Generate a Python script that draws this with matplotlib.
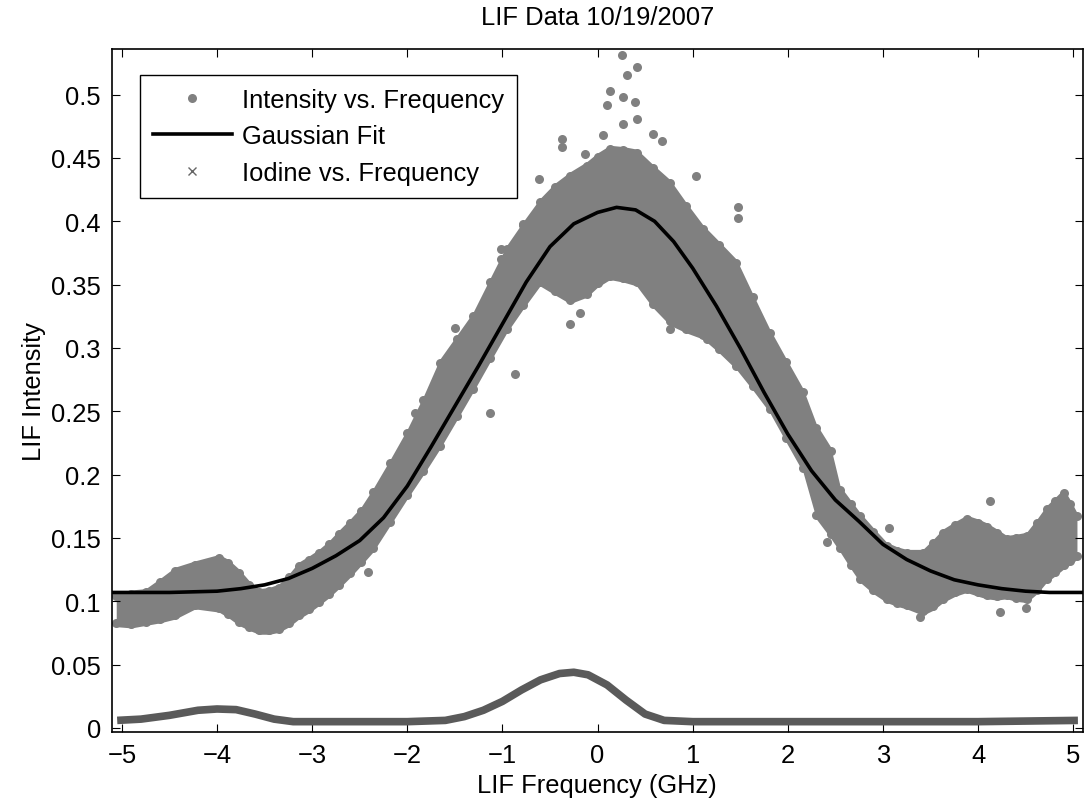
import numpy as np
import matplotlib.pyplot as plt
from matplotlib.lines import Line2D

plt.rcParams['font.family'] = ['Liberation Sans', 'DejaVu Sans']
plt.rcParams['font.size'] = 18.4

# data
# ---

# envelope of the intensity scatter (frequency in GHz, lower / upper edge)
band_x = [-5.06, -4.90, -4.75, -4.60, -4.44, -4.23, -3.98, -3.88, -3.77, -3.66,
          -3.56, -3.45, -3.35, -3.24, -3.14, -3.03, -2.93, -2.82, -2.72, -2.60,
          -2.49, -2.36, -2.18, -2.0, -1.83, -1.66, -1.48, -1.31, -1.13, -0.955,
          -0.78, -0.605, -0.45, -0.29, -0.115, 0.0, 0.13, 0.27, 0.41, 0.58,
          0.76, 0.93, 1.11, 1.28, 1.46, 1.63, 1.81, 1.98, 2.16, 2.30,
          2.45, 2.55, 2.66, 2.76, 2.90, 3.04, 3.15, 3.25, 3.42, 3.53,
          3.63, 3.76, 3.88, 4.00, 4.09, 4.20, 4.30, 4.40, 4.51, 4.62,
          4.72, 4.81, 4.90, 4.97, 5.04]
band_lo = [0.080, 0.079, 0.081, 0.083, 0.086, 0.094, 0.0915, 0.087, 0.081, 0.077,
           0.074, 0.074, 0.0755, 0.080, 0.086, 0.091, 0.0966, 0.103, 0.110, 0.119,
           0.128, 0.139, 0.160, 0.181, 0.200, 0.220, 0.243, 0.265, 0.289, 0.312,
           0.331, 0.349, 0.342, 0.335, 0.340, 0.348, 0.354, 0.352, 0.349, 0.332,
           0.318, 0.312, 0.307, 0.296, 0.283, 0.267, 0.249, 0.226, 0.202, 0.165,
           0.150, 0.139, 0.126, 0.115, 0.106, 0.099, 0.096, 0.094, 0.089, 0.093,
           0.099, 0.104, 0.107, 0.104, 0.102, 0.101, 0.102, 0.100, 0.099, 0.106,
           0.115, 0.120, 0.1255, 0.129, 0.133]
band_hi = [0.107, 0.109, 0.110, 0.118, 0.127, 0.132, 0.137, 0.133, 0.1255, 0.116,
           0.110, 0.111, 0.1137, 0.122, 0.131, 0.136, 0.141, 0.148, 0.156, 0.165,
           0.174, 0.189, 0.212, 0.236, 0.262, 0.291, 0.310, 0.328, 0.355, 0.381,
           0.400, 0.418, 0.430, 0.439, 0.447, 0.454, 0.460, 0.459, 0.457, 0.445,
           0.433, 0.415, 0.397, 0.384, 0.370, 0.343, 0.315, 0.292, 0.268, 0.240,
           0.222, 0.191, 0.180, 0.170, 0.158, 0.1466, 0.143, 0.141, 0.141, 0.149,
           0.157, 0.163, 0.168, 0.165, 0.162, 0.157, 0.152, 0.153, 0.1545, 0.165,
           0.1755, 0.182, 0.1887, 0.180, 0.170]

# isolated points sticking out of the band
out_x = [0.254, 0.41, 0.307, 0.131, 0.097, 0.27, 0.394, 0.41, 0.27, 0.06,
         0.587, 0.675, -0.132, 1.48, 1.48, 1.04, -0.184, -0.29, 0.76, 1.15,
         -0.376, -0.376, -0.62, -0.78, -1.01, -1.01, -1.25, -1.50, -1.50, -1.69,
         -1.92, -2.41, -0.87, -1.13, 4.13, 3.06, 4.23, 3.39, 4.50, 2.41]
out_y = [0.531, 0.5216, 0.5155, 0.503, 0.492, 0.498, 0.494, 0.481, 0.477, 0.468,
         0.469, 0.4637, 0.453, 0.411, 0.403, 0.436, 0.328, 0.319, 0.315, 0.307,
         0.465, 0.4584, 0.433, 0.398, 0.378, 0.370, 0.328, 0.316, 0.2966, 0.2755,
         0.249, 0.123, 0.2795, 0.249, 0.1795, 0.158, 0.0913, 0.0874, 0.095, 0.147]

# gaussian fit
fit_x = [-5.1, -4.5, -4.0, -3.75, -3.5, -3.25, -3.0, -2.75, -2.5, -2.25,
         -2.0, -1.75, -1.5, -1.25, -1.0, -0.75, -0.5, -0.25, 0.0, 0.2,
         0.4, 0.6, 0.8, 1.0, 1.25, 1.5, 1.75, 2.0, 2.25, 2.5,
         2.75, 3.0, 3.25, 3.5, 3.75, 4.0, 4.25, 4.5, 4.75, 5.1]
fit_y = [0.107, 0.107, 0.108, 0.110, 0.113, 0.118, 0.126, 0.136, 0.148, 0.166,
         0.191, 0.222, 0.254, 0.286, 0.319, 0.352, 0.380, 0.398, 0.407, 0.411,
         0.409, 0.400, 0.384, 0.363, 0.333, 0.300, 0.265, 0.232, 0.203, 0.180,
         0.163, 0.145, 0.133, 0.124, 0.117, 0.113, 0.110, 0.108, 0.107, 0.107]

# iodine reference signal
iod_x = [-5.05, -4.8, -4.5, -4.2, -4.0, -3.8, -3.6, -3.4, -3.2, -3.0,
         -2.0, -1.6, -1.4, -1.2, -1.0, -0.8, -0.6, -0.4, -0.25, -0.1,
         0.1, 0.3, 0.5, 0.7, 1.0, 2.0, 3.0, 4.0, 5.05]
iod_y = [0.006, 0.007, 0.010, 0.014, 0.015, 0.0145, 0.011, 0.007, 0.005, 0.005,
         0.005, 0.006, 0.009, 0.014, 0.021, 0.030, 0.038, 0.043, 0.044, 0.042,
         0.034, 0.022, 0.011, 0.006, 0.005, 0.005, 0.005, 0.005, 0.006]

x_ticks = [-5, -4, -3, -2, -1, 0, 1, 2, 3, 4, 5]
y_ticks = [0, 0.05, 0.1, 0.15, 0.2, 0.25, 0.3, 0.35, 0.4, 0.45, 0.5]
y_ticklabels = ['0', '0.05', '0.1', '0.15', '0.2', '0.25', '0.3', '0.35', '0.4', '0.45', '0.5']


# plot
# ---

gray = '#808080'
dark = '#5a5a5a'

fig = plt.figure(figsize=(10.88, 8.03), dpi=100)
ax = fig.add_axes([0.1029, 0.0868, 0.8922, 0.8509])

# the scatter band: filled core plus dots on the edges
ax.fill_between(band_x, band_lo, band_hi, color=gray, lw=0, zorder=1)
inset = 0.003
ax.plot(band_x, [v + inset for v in band_lo], 'o', color=gray, ms=6.5, mec='none', zorder=1)
ax.plot(band_x, [v - inset for v in band_hi], 'o', color=gray, ms=6.5, mec='none', zorder=1)
ax.plot(out_x, out_y, 'o', color=gray, ms=6.5, mec='none', zorder=1)

ax.plot(fit_x, fit_y, color='black', lw=2.6, zorder=3)

ax.plot(iod_x, iod_y, color=dark, lw=5.5, solid_capstyle='butt', zorder=2)

ax.set_xlim(-5.105, 5.10)
ax.set_ylim(-0.0034, 0.536)
ax.set_xticks(x_ticks)
ax.set_yticks(y_ticks)
ax.set_yticklabels(y_ticklabels)
ax.tick_params(direction='in', top=True, right=True, length=6, width=0.8, pad=8)
for sp in ax.spines.values():
    sp.set_linewidth(1.2)

ax.set_title('LIF Data 10/19/2007', fontsize=18.4, pad=18)
ax.set_xlabel('LIF Frequency (GHz)')
ax.set_ylabel('LIF Intensity')

# legend
handles = [
    Line2D([], [], ls='none', marker='o', color=gray, ms=6.5, mec='none'),
    Line2D([], [], color='black', lw=2.6),
    Line2D([], [], ls='none', marker='x', color='0.4', ms=6, mew=1),
]
labels = ['Intensity vs. Frequency', 'Gaussian Fit', 'Iodine vs. Frequency']
leg = ax.legend(handles, labels, loc='upper left', bbox_to_anchor=(0.0288, 0.962),
                borderaxespad=0, fancybox=False, edgecolor='black', framealpha=1,
                handlelength=3.1, handletextpad=0.4, labelspacing=0.49, borderpad=0.5)
leg.get_frame().set_linewidth(1.0)

fig.savefig('out.png', dpi=100)
